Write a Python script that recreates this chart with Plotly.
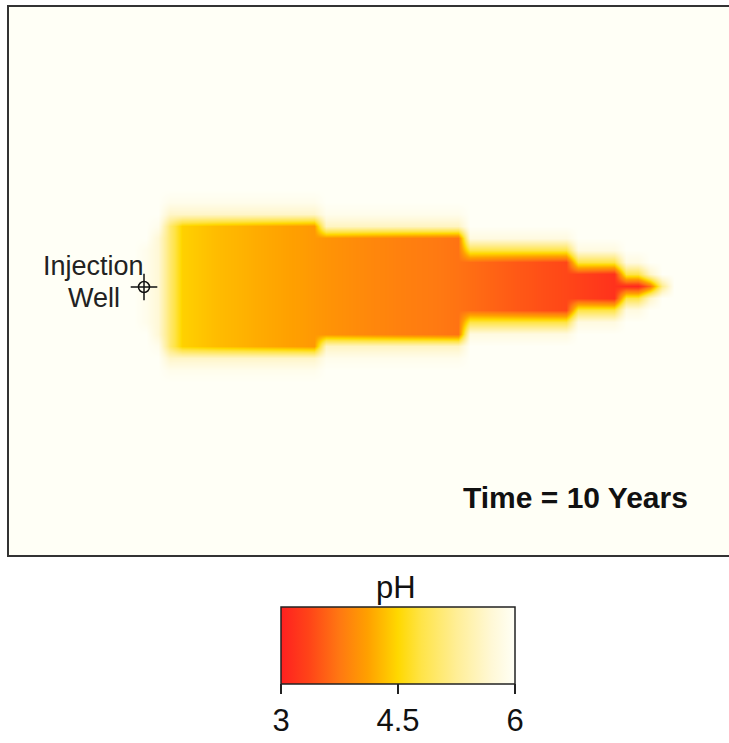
import plotly.graph_objects as go

# ---- grid definition (model cells) ----
grid_x0, grid_dx, grid_nx = 5, 12, 61
grid_y0, grid_dy, grid_ny = 3, 12, 47
background_ph = 6.0
plume_center_row = 23
plume_first_col = 11

# pH on the plume centre line, column by column
plume_ph = [5.9, 5.7, 5.0, 4.45, 4.4, 4.35, 4.3, 4.27, 4.24, 4.2, 4.17, 4.14, 4.11, 4.08, 4.04,
            4.0, 3.97, 3.94, 3.91, 3.88, 3.86, 3.83, 3.81, 3.79, 3.77, 3.74, 3.71,
            3.67, 3.63, 3.59, 3.55, 3.51, 3.48, 3.44, 3.41, 3.38,
            3.33, 3.28, 3.23, 3.18,
            3.12, 3.08, 3.7, 5.2]
# number of full plume rows on each side of the centre line
plume_half_rows = [3, 4, 5, 5, 5, 5, 5, 5, 5, 5, 5, 5, 5, 5, 5,
                   4, 4, 4, 4, 4, 4, 4, 4, 4, 4, 4, 4,
                   2, 2, 2, 2, 2, 2, 2, 2, 2,
                   1, 1, 1, 1,
                   0, 0, 0, 0]
# pH in the first fringe row just outside the plume
plume_rim_ph = [6.0, 5.9, 5.6, 5.6, 5.6, 5.6, 5.6, 5.6, 5.6, 5.6, 5.6, 5.6, 5.6, 5.6, 5.6,
                5.55, 5.55, 5.55, 5.55, 5.55, 5.55, 5.55, 5.55, 5.55, 5.55, 5.55, 5.55,
                4.8, 4.8, 4.8, 4.8, 4.8, 4.8, 4.8, 4.8, 4.8,
                4.8, 4.8, 4.8, 4.8,
                4.8, 4.8, 5.6, 6.0]
# pH in the second fringe row
plume_outer_ph = [6.0, 6.0, 5.9, 5.9, 5.9, 5.9, 5.9, 5.9, 5.9, 5.9, 5.9, 5.9, 5.9, 5.9, 5.9,
                  5.9, 5.9, 5.9, 5.9, 5.9, 5.9, 5.9, 5.9, 5.9, 5.9, 5.9, 5.9,
                  5.8, 5.8, 5.8, 5.8, 5.8, 5.8, 5.8, 5.8, 5.8,
                  5.8, 5.8, 5.8, 5.8,
                  5.8, 5.8, 6.0, 6.0]

well_x = [135]
well_y = [280]

cbar_ticks = [3, 4.5, 6]
cbar_ticktext = ["3", "4.5", "6"]

# ---- build cell table ----
z = [[background_ph] * grid_nx for _ in range(grid_ny)]
for k, ph in enumerate(plume_ph):
    col = plume_first_col + k
    half = plume_half_rows[k]
    for row in range(grid_ny):
        d = abs(row - plume_center_row)
        if d <= half:
            z[row][col] = ph
        elif d == half + 1:
            z[row][col] = plume_rim_ph[k]
        elif d == half + 2:
            z[row][col] = plume_outer_ph[k]

colorscale = [
    [0.00, "#FF2020"],
    [0.12, "#FF4418"],
    [0.25, "#FF7812"],
    [0.37, "#FFA000"],
    [0.45, "#FFC200"],
    [0.50, "#FFD800"],
    [0.60, "#FFE448"],
    [0.75, "#FFEE96"],
    [0.90, "#FFF8D6"],
    [1.00, "#FFFFF6"],
]

fig = go.Figure()
fig.add_trace(go.Heatmap(
    z=z, x0=grid_x0, dx=grid_dx, y0=grid_y0, dy=grid_dy,
    zmin=3, zmax=6, zsmooth="best", colorscale=colorscale,
    hoverinfo="skip",
    colorbar=dict(
        orientation="h", thickness=77, thicknessmode="pixels",
        len=234, lenmode="pixels",
        x=0.5403, xanchor="center", y=-0.0949, yanchor="top",
        xpad=0, ypad=0,
        outlinewidth=1.5, outlinecolor="#222",
        tickvals=cbar_ticks, ticktext=cbar_ticktext,
        ticks="outside", ticklen=10, tickwidth=1.5, tickcolor="#222",
        tickfont=dict(family="Liberation Sans, Arial, sans-serif", size=31, color="#111"),
    ),
))

fig.add_trace(go.Scatter(
    x=well_x, y=well_y, mode="markers", hoverinfo="skip", showlegend=False,
    marker=dict(symbol="circle-open", size=11, color="#111", line=dict(width=1.5, color="#111")),
))
fig.add_trace(go.Scatter(
    x=well_x, y=well_y, mode="markers", hoverinfo="skip", showlegend=False,
    marker=dict(symbol="cross-thin-open", size=19, color="#111", line=dict(width=1.5, color="#111")),
))

font_reg = "Liberation Sans, Arial, sans-serif"
fig.add_annotation(x=84.5, y=259, xref="x", yref="y", text="Injection", showarrow=False,
                   xanchor="center", yanchor="middle",
                   font=dict(family=font_reg, size=27, color="#222"))
fig.add_annotation(x=84.5, y=291, xref="x", yref="y", text="Well", showarrow=False,
                   xanchor="center", yanchor="middle",
                   font=dict(family=font_reg, size=27, color="#222"))
fig.add_annotation(x=566, y=490, xref="x", yref="y", text="<b>Time = 10 Years</b>", showarrow=False,
                   xanchor="center", yanchor="middle",
                   font=dict(family=font_reg, size=30, color="#111"))
fig.add_annotation(x=0.5375, y=-0.0584, xref="paper", yref="paper", text="pH", showarrow=False,
                   xanchor="center", yanchor="middle",
                   font=dict(family=font_reg, size=31, color="#111"))

fig.update_xaxes(range=[0, 720], showgrid=False, zeroline=False, showticklabels=False, ticks="",
                 showline=True, mirror=True, linecolor="#333", linewidth=2)
fig.update_yaxes(range=[548, 0], showgrid=False, zeroline=False, showticklabels=False, ticks="",
                 showline=True, mirror=False, linecolor="#333", linewidth=2)

fig.update_layout(
    width=729, height=743,
    margin=dict(l=9, r=0, t=7, b=188),
    paper_bgcolor="white", plot_bgcolor="#FFFFF6",
    showlegend=False,
)

fig.write_html("out.html", config={"displayModeBar": False})
